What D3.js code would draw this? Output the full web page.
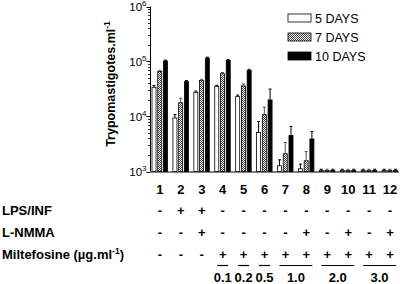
<!DOCTYPE html>
<html>
<head>
<meta charset="utf-8">
<script src="https://cdn.jsdelivr.net/npm/d3@7"></script>
<style>
  body { margin: 0; background: #fff; }
  svg { font-family: Arial, "Liberation Sans", sans-serif; }
</style>
</head>
<body>
<svg id="chart" width="400" height="284"></svg>
<script>
// data
const groups = ["1","2","3","4","5","6","7","8","9","10","11","12"]
const seriesNames = ["5 DAYS", "7 DAYS", "10 DAYS"]
const days5  = [34000, 9400, 27500, 35000, 23000, 5100, 1270, 1120, 1050, 1050, 1050, 1050]
const days7  = [66000, 17800, 45000, 60000, 36000, 10800, 2100, 1570, 1050, 1050, 1050, 1050]
const days10 = [102000, 43000, 115000, 104000, 69000, 20000, 4500, 3900, 1050, 1050, 1050, 1050]
const err5   = [36500, 10800, 29000, 37000, 24500, 8100, 1630, 1360, 1100, 1100, 1100, 1100]
const err7   = [69000, 21500, 47500, 63000, 39000, 14800, 3370, 2300, 1100, 1100, 1100, 1100]
const err10  = [106000, 45000, 120000, 108000, 72000, 31500, 6600, 5300, 1100, 1100, 1100, 1100]
const lpsRow   = ["-","+","+","-","-","-","-","-","-","-","-","-"]
const nmmaRow  = ["-","-","+","-","-","-","-","+","-","+","-","+"]
const miltRow  = ["-","-","-","+","+","+","+","+","+","+","+","+"]
const doses = [
  {label: "0.1", from: "4", to: "4"},
  {label: "0.2", from: "5", to: "5"},
  {label: "0.5", from: "6", to: "6"},
  {label: "1.0", from: "7", to: "8"},
  {label: "2.0", from: "9", to: "10"},
  {label: "3.0", from: "11", to: "12"}
]
const yTicks = [1e3, 1e4, 1e5, 1e6]

const values = [days5, days7, days10]
const errs = [err5, err7, err10]

const svg = d3.select("#chart")

// dotted fill for the 7 days bars
const defs = svg.append("defs")
const pat = defs.append("pattern")
  .attr("id", "dots")
  .attr("width", 2).attr("height", 2)
  .attr("patternUnits", "userSpaceOnUse")
pat.append("rect").attr("width", 2).attr("height", 2).attr("fill", "#fff")
pat.append("rect").attr("width", 1).attr("height", 1).attr("fill", "#444")
pat.append("rect").attr("x", 1).attr("y", 1).attr("width", 1).attr("height", 1).attr("fill", "#444")

const fills = ["#fff", "url(#dots)", "#000"]

const y = d3.scaleLog().domain([1e3, 1e6]).range([171.5, 6.5])
const x = d3.scaleBand().domain(groups).range([149.5, 400.5]).padding(0)
const xs = d3.scaleBand().domain(d3.range(3)).range([2.5, 18]).paddingInner(0.3)

// y axis with minor ticks
const axisX = 150.5
const yAxis = svg.append("g")
yAxis.append("line")
  .attr("x1", axisX).attr("x2", axisX)
  .attr("y1", y(1e6)).attr("y2", y(1e3))
  .attr("stroke", "#000")
const minor = []
for (let d = 1e3; d < 1e6; d *= 10) {
  for (let m = 2; m < 10; m++) minor.push(d * m)
}
yAxis.selectAll(".minor").data(minor).join("line")
  .attr("x1", axisX - 2.5).attr("x2", axisX)
  .attr("y1", d => Math.round(y(d)) + 0.5).attr("y2", d => Math.round(y(d)) + 0.5)
  .attr("stroke", "#000").attr("stroke-width", 0.8)
yAxis.selectAll(".major").data(yTicks).join("line")
  .attr("x1", axisX - 4).attr("x2", axisX)
  .attr("y1", d => Math.round(y(d)) + 0.5).attr("y2", d => Math.round(y(d)) + 0.5)
  .attr("stroke", "#000")
const tl = yAxis.selectAll(".lab").data(yTicks).join("text")
  .attr("x", axisX - 4).attr("y", d => y(d) + 4)
  .attr("text-anchor", "end")
  .attr("font-size", 11.5)
tl.append("tspan").text("10")
tl.append("tspan").attr("font-size", 8).attr("dy", -5).text(d => Math.round(Math.log10(d)))

// y title
svg.append("text")
  .attr("transform", "translate(115,84) rotate(-90)")
  .attr("text-anchor", "middle")
  .attr("font-size", 12.5).attr("font-weight", "bold")
  .text("Trypomastigotes.ml")
  .append("tspan").attr("font-size", 8.5).attr("dy", -5).text("-1")

// x baseline
svg.append("line")
  .attr("x1", axisX).attr("x2", 399)
  .attr("y1", y(1e3) + 0.5).attr("y2", y(1e3) + 0.5)
  .attr("stroke", "#000")

// bars
const bars = svg.append("g")
values.forEach((vals, s) => {
  const g = bars.append("g")
  g.selectAll("rect").data(groups).join("rect")
    .attr("x", (d, i) => x(d) + xs(s))
    .attr("width", xs.bandwidth())
    .attr("y", (d, i) => y(vals[i]))
    .attr("height", (d, i) => y(1e3) - y(vals[i]))
    .attr("fill", fills[s])
    .attr("stroke", "#000").attr("stroke-width", 0.8)
  // error bars
  g.selectAll(".err").data(groups).join("line")
    .attr("x1", (d, i) => x(d) + xs(s) + xs.bandwidth() / 2)
    .attr("x2", (d, i) => x(d) + xs(s) + xs.bandwidth() / 2)
    .attr("y1", (d, i) => y(vals[i]))
    .attr("y2", (d, i) => y(errs[s][i]))
    .attr("stroke", s === 1 ? "#555" : "#000").attr("stroke-width", 1)
  g.selectAll(".cap").data(groups).join("line")
    .attr("x1", (d, i) => x(d) + xs(s) + 0.5)
    .attr("x2", (d, i) => x(d) + xs(s) + xs.bandwidth() - 0.5)
    .attr("y1", (d, i) => y(errs[s][i]))
    .attr("y2", (d, i) => y(errs[s][i]))
    .attr("stroke", s === 1 ? "#555" : "#000").attr("stroke-width", 1)
})

// legend
const leg = svg.append("g").attr("transform", "translate(288,14)")
seriesNames.forEach((n, i) => {
  leg.append("rect")
    .attr("x", 0).attr("y", i * 19)
    .attr("width", 23).attr("height", 8)
    .attr("fill", fills[i]).attr("stroke", "#000").attr("stroke-width", 0.8)
  leg.append("text")
    .attr("x", 27).attr("y", i * 19 + 9)
    .attr("font-size", 12.5)
    .text(n)
})

// category labels
const cx = d => x(d) + x.bandwidth() / 2
svg.append("g").selectAll("text").data(groups).join("text")
  .attr("x", cx).attr("y", 194)
  .attr("text-anchor", "middle")
  .attr("font-size", 13).attr("font-weight", "bold")
  .text(d => d)

// treatment rows
const rows = [
  {name: "LPS/INF", signs: lpsRow, y: 215},
  {name: "L-NMMA", signs: nmmaRow, y: 237},
  {name: "Miltefosine (µg.ml", signs: miltRow, y: 259}
]
rows.forEach((r, ri) => {
  const t = svg.append("text")
    .attr("x", 2).attr("y", r.y)
    .attr("font-size", 13).attr("font-weight", "bold")
    .text(r.name)
  if (ri === 2) {
    t.append("tspan").attr("font-size", 8.5).attr("dy", -5).text("-1")
    t.append("tspan").attr("dy", 5).text(")")
  }
  svg.append("g").selectAll("text").data(groups).join("text")
    .attr("x", cx).attr("y", r.y)
    .attr("text-anchor", "middle")
    .attr("font-size", 13).attr("font-weight", "bold")
    .text((d, i) => r.signs[i])
})

// dose brackets
const dg = svg.append("g")
doses.forEach(d => {
  const x1 = d.from === d.to ? cx(d.from) - 5.5 : cx(d.from) - 6
  const x2 = d.from === d.to ? cx(d.to) + 5.5 : cx(d.to) + 6
  dg.append("line")
    .attr("x1", x1).attr("x2", x2)
    .attr("y1", 265.5).attr("y2", 265.5)
    .attr("stroke", "#000").attr("stroke-width", 1.2)
  dg.append("text")
    .attr("x", (x1 + x2) / 2).attr("y", 281.5)
    .attr("text-anchor", "middle")
    .attr("font-size", 13).attr("font-weight", "bold")
    .text(d.label)
})
</script>
</body>
</html>
